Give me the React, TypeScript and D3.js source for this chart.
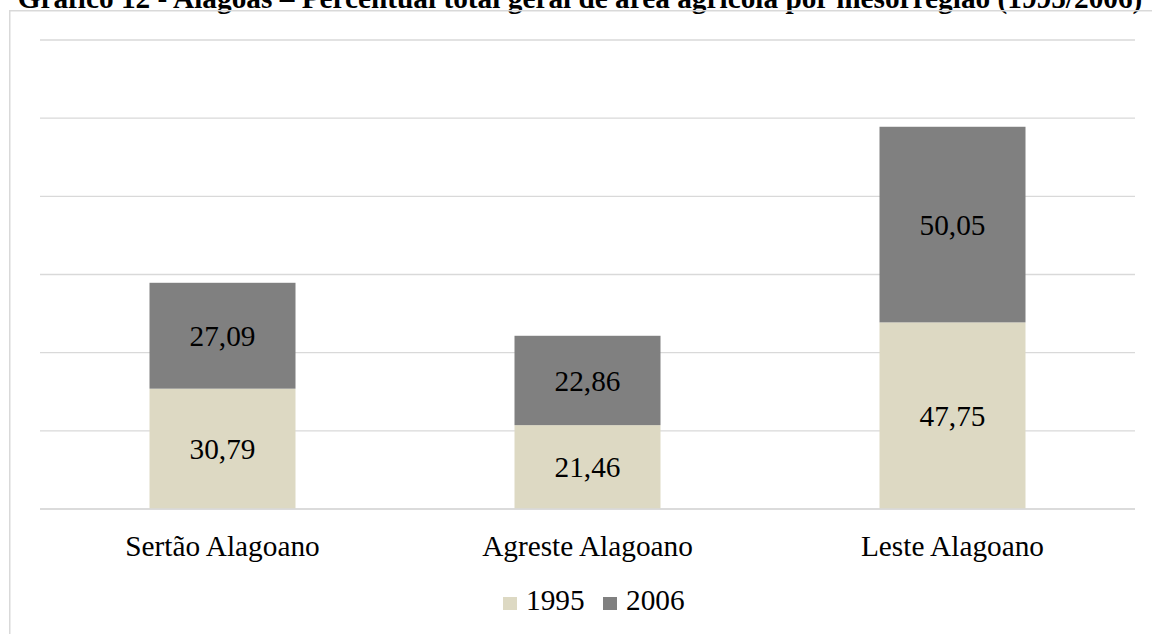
import React from "react";
import * as d3 from "d3";

const categories = ["Sertão Alagoano", "Agreste Alagoano", "Leste Alagoano"];
const series1995 = [30.79, 21.46, 47.75];
const series2006 = [27.09, 22.86, 50.05];
const seriesNames = ["1995", "2006"];
const yTicks = [0, 20, 40, 60, 80, 100, 120];
const title = "Gráfico 12 - Alagoas – Percentual total geral de área agrícola por mesorregião (1995/2006)";

const W = 1152;
const H = 634;
const colors = ["#DDD9C3", "#808080"];
const font = "'Liberation Serif', 'Times New Roman', serif";
const fs = 29.3;
const fmt = (v: number) => v.toFixed(2).replace(".", ",");

export default function App() {
  const x = d3.scaleBand<string>().domain(categories).range([40, 1135]).paddingInner(0.6).paddingOuter(0.3);
  const y = d3.scaleLinear().domain([0, 120]).range([509, 40]);
  const stacked = categories.map((c, i) => {
    const a = series1995[i];
    const b = series2006[i];
    return [
      { c, y0: 0, y1: a, v: a, k: 0 },
      { c, y0: a, y1: a + b, v: b, k: 1 },
    ];
  });
  return (
    <svg width={W} height={H} style={{ position: "absolute", left: 0, top: 0, background: "#fff" }} fontFamily={font}>
      <rect x={0} y={0} width={W} height={H} fill="#fff" />
      <text x={580} y={8} textAnchor="middle" fontSize={fs} fontWeight="bold" fill="#000">{title}</text>
      <rect x={9.75} y={10.75} width={1160} height={640} fill="none" stroke="#d9d9d9" strokeWidth={1.5} />
      {yTicks.map((t) => (
        <line key={t} x1={40} x2={1135} y1={y(t)} y2={y(t)} stroke="#d9d9d9" strokeWidth={1.3} />
      ))}
      {stacked.map((segs) =>
        segs.map((s) => (
          <g key={s.c + s.k}>
            <rect x={x(s.c)} y={y(s.y1)} width={x.bandwidth()} height={y(s.y0) - y(s.y1)} fill={colors[s.k]} />
            <text x={(x(s.c) as number) + x.bandwidth() / 2} y={(y(s.y0) + y(s.y1)) / 2} dy="0.35em" textAnchor="middle" fontSize={fs} fill="#000">
              {fmt(s.v)}
            </text>
          </g>
        ))
      )}
      <line x1={40} x2={1135} y1={y(0)} y2={y(0)} stroke="#d9d9d9" strokeWidth={1.3} />
      {categories.map((c) => (
        <text key={c} x={(x(c) as number) + x.bandwidth() / 2} y={556} textAnchor="middle" fontSize={fs} fill="#000">{c}</text>
      ))}
      {seriesNames.map((n, i) => (
        <g key={n} transform={`translate(${503 + i * 100},0)`}>
          <rect x={0} y={597} width={14} height={13} fill={colors[i]} />
          <text x={23} y={610} fontSize={fs} fill="#000">{n}</text>
        </g>
      ))}
    </svg>
  );
}
